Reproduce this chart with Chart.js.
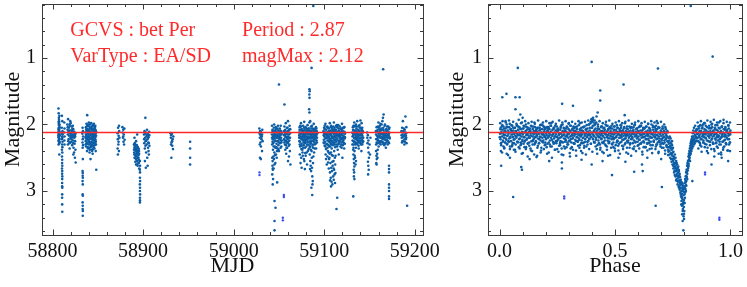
<!DOCTYPE html>
<html>
<head>
<meta charset="utf-8">
<script src="https://cdn.jsdelivr.net/npm/chart.js@4.4.1/dist/chart.umd.min.js"></script>
<style>
  html, body { margin: 0; padding: 0; background: #fff; }
  #wrap { position: relative; width: 747px; height: 287px; overflow: hidden; }
  canvas { position: absolute; left: 0; top: 0; }
</style>
</head>
<body>
<div id="wrap">
  <canvas id="lc" width="747" height="287"></canvas>
  <canvas id="ph" width="747" height="287"></canvas>
</div>
<script>
// star info shown in the corner of the light curve
const gcvsName = 'bet Per';
const varType = 'EA/SD';
const period = 2.87;
const magMax = 2.12;

// tick labels
const mjdTicks = [58800, 58900, 59000, 59100, 59200];
const phaseTicks = [0, 0.5, 1];
const magTicks = [1, 2, 3];

// light curve, [MJD, mag]
const season1 = [
  [58806.6,1.76],[58806.8,1.83],[58807.0,1.9],[58806.7,1.96],[58807.2,2.01],[58806.9,2.05],[58807.4,2.08],[58806.6,2.11],[58807.1,2.14],[58807.6,2.17],
  [58806.8,2.19],[58807.3,2.22],[58807.0,2.25],[58807.5,2.28],[58806.7,2.3],[58807.8,2.04],[58807.2,1.93],[58807.9,2.12],[58806.9,2.2],[58807.4,2.27],
  [58807.7,2.0],[58807.1,2.09],[58808.0,2.16],[58807.5,2.45],[58806.8,2.24],[58807.6,1.87],
  [58806.9,1.99],[58807.3,2.06],[58807.6,2.21],[58806.5,2.16],[58807.8,2.26],[58807.0,2.13],[58807.4,1.96],
  [58810.4,1.87],[58810.8,1.95],[58810.2,2.05],[58811.0,2.1],[58810.5,2.14],[58810.7,2.18],[58810.3,2.22],[58811.1,2.26],[58810.6,2.3],[58810.9,2.34],
  [58810.4,2.38],[58810.8,2.42],[58810.5,2.48],[58810.7,2.53],[58810.6,2.58],[58810.8,2.62],[58810.5,2.66],[58810.7,2.7],[58810.6,2.74],[58810.8,2.78],
  [58810.7,2.82],[58810.6,2.88],[58810.7,2.93],[58810.8,2.95],[58810.7,3.05],[58810.6,3.1],[58810.7,3.2],[58810.8,3.31],[58811.0,2.2],[58811.2,2.15],
  [58813.0,1.97],[58813.2,2.06],[58812.9,2.12],[58813.3,2.18],[58813.1,2.24],[58813.2,2.3],
  [58816.3,2.0],[58816.6,2.08],[58816.9,2.15],[58817.2,1.92],[58817.5,2.11],[58817.8,2.22],[58818.1,2.05],[58818.4,2.17],[58818.7,2.28],[58819.0,2.02],
  [58819.3,2.13],[58819.6,1.95],[58819.9,2.2],[58820.2,2.09],[58820.5,2.26],[58820.8,2.14],[58821.1,2.03],[58821.4,2.19],[58821.7,2.31],[58822.0,2.1],
  [58822.3,2.16],[58822.6,2.24],[58822.9,2.07],[58823.2,2.35],[58823.5,2.13],[58823.8,2.42],[58824.1,2.2],[58824.4,2.29],[58824.7,2.5],[58825.0,2.18],
  [58825.3,2.38],[58825.6,2.57],[58817.0,2.3],[58818.9,2.36],[58820.0,1.98],[58821.9,2.06],[58823.0,2.45],
  [58816.8,2.04],[58817.4,2.25],[58818.2,2.12],[58818.8,2.0],[58819.5,2.27],[58820.3,2.16],[58821.0,2.22],[58821.6,2.09],[58822.4,2.02],[58823.3,2.19],
  [58824.0,2.11],[58824.9,2.25],[58825.4,2.14],
  [58833.2,2.05],[58833.6,2.1],[58833.0,2.14],[58833.8,2.18],[58833.4,2.22],[58833.1,2.27],[58833.7,2.31],[58833.3,2.35],[58833.5,2.52],[58833.2,2.7],
  [58833.4,2.73],[58833.3,2.77],[58833.5,2.8],[58833.2,2.85],[58833.4,2.9],[58833.3,3.05],[58833.5,3.07],[58833.2,3.17],[58833.4,3.22],[58833.3,3.27],
  [58833.5,3.3],[58833.4,3.37],
  [58836.5,2.12],[58836.7,2.25],[58836.9,2.04],[58837.1,2.33],[58837.3,2.17],[58837.5,1.99],[58837.7,2.28],[58837.9,2.1],[58838.1,2.4],[58838.3,1.86],
  [58838.5,2.2],[58838.7,2.07],[58838.9,2.15],[58839.1,2.36],[58839.3,2.02],[58839.5,2.23],[58839.7,2.13],[58839.9,2.3],[58840.1,1.97],[58840.3,2.19],
  [58840.5,2.08],[58840.7,2.26],[58840.9,2.42],[58841.1,2.11],[58841.3,2.0],[58841.5,2.21],[58841.7,2.16],[58841.9,2.34],[58842.1,2.05],[58842.3,2.27],
  [58842.5,2.14],[58842.7,1.98],[58842.9,2.38],[58843.1,2.09],[58843.3,2.22],[58843.5,2.03],[58843.7,2.18],[58843.9,2.3],[58844.1,2.12],[58844.3,2.44],
  [58844.5,2.01],[58844.7,2.24],[58844.9,2.15],[58845.1,2.07],[58845.3,2.32],[58845.5,2.19],[58845.7,1.99],[58845.9,2.27],[58846.1,2.11],[58846.3,2.36],
  [58846.5,2.06],[58846.7,2.2],[58846.9,2.14],[58847.1,2.29],[58847.3,2.02],[58847.5,2.23],[58847.7,2.4],[58847.9,2.1],[58848.1,2.17],[58848.3,2.68],
  [58836.8,2.18],[58838.0,2.29],[58839.4,2.09],[58840.6,2.35],[58841.8,2.05],[58843.0,2.26],[58844.2,2.17],[58845.4,2.13],[58846.6,2.31],[58847.4,2.08],
  [58842.0,2.52],[58845.0,2.02],[58839.0,2.0],[58843.8,2.4],[58846.0,2.2],
  [58836.6,2.3],[58837.0,2.15],[58837.6,2.06],[58838.2,2.22],[58838.8,2.34],[58839.2,2.14],[58839.8,2.24],[58840.4,2.03],[58840.8,2.17],[58841.4,2.29],
  [58842.2,2.12],[58842.8,2.2],[58843.4,2.33],[58844.0,2.06],[58844.6,2.28],[58845.2,2.23],[58845.8,2.1],[58846.4,2.16],[58847.0,2.24],[58847.6,2.14],
  [58848.0,2.3],[58841.0,2.38],[58844.8,2.37],[58838.6,2.1],[58847.2,2.19],
  [58871.8,2.13],[58872.1,2.22],[58872.4,2.05],[58872.7,2.3],[58873.0,2.17],[58873.3,2.4],[58872.2,2.45],[58873.6,2.1],[58872.9,2.26],[58873.9,2.2],
  [58871.9,2.36],[58873.4,2.02],
  [58877.2,2.04],[58877.5,2.12],[58877.8,2.2],[58878.1,2.08],[58878.4,2.26],[58878.7,2.15],[58879.0,2.3],[58879.3,2.06],[58878.0,2.18],[58879.6,2.23],
  [58889.9,2.3],[58890.2,2.42],[58890.4,2.35],[58890.6,2.5],[58890.8,2.28],[58891.0,2.45],[58891.2,2.38],[58891.4,2.56],[58891.6,2.33],[58891.8,2.47],
  [58892.0,2.4],[58892.2,2.6],[58892.4,2.36],[58892.6,2.52],[58892.8,2.44],[58893.0,2.31],[58893.2,2.48],[58893.4,2.39],[58893.6,2.55],[58893.8,2.43],
  [58894.0,2.62],[58894.2,2.34],[58894.4,2.5],[58894.6,2.41],[58894.8,2.58],[58895.0,2.46],[58895.2,2.37],[58895.4,2.53],[58895.6,2.44],[58895.8,2.66],
  [58890.5,2.2],[58893.5,2.15],[58892.3,2.25],
  [58890.0,2.38],[58890.7,2.32],[58891.3,2.5],[58891.9,2.37],[58892.5,2.45],[58893.1,2.55],[58893.7,2.35],[58894.3,2.44],[58894.9,2.5],[58895.5,2.4],
  [58892.9,2.6],
  [58896.5,2.55],[58896.7,2.62],[58896.4,2.68],[58896.6,2.72],[58896.5,2.8],[58896.7,2.85],[58896.4,2.9],[58896.6,2.95],[58896.5,3.0],[58896.7,3.05],
  [58896.5,3.1],[58896.6,3.14],[58896.5,3.17],
  [58901.0,2.15],[58901.3,2.28],[58901.6,2.1],[58901.9,2.36],[58902.2,2.2],[58902.5,1.9],[58902.8,2.25],[58903.1,2.12],[58903.4,2.42],[58903.7,2.18],
  [58904.0,2.3],[58904.3,2.08],[58904.6,2.5],[58904.9,2.22],[58905.2,2.14],[58905.5,2.35],[58905.8,2.27],[58906.1,2.19],[58906.4,2.45],[58906.7,2.11],
  [58907.0,2.32],[58902.0,2.55],[58905.0,2.62],[58903.0,2.65],[58906.0,2.4],
  [58901.2,2.22],[58902.0,2.14],[58902.6,2.32],[58903.5,2.24],[58904.2,2.16],[58905.4,2.2],[58906.2,2.28],[58906.8,2.16],
  [58930.2,2.13],[58930.6,2.2],[58931.0,2.16],[58931.4,2.27],[58931.8,2.14],[58932.2,2.32],[58932.6,2.22],[58933.0,2.37],[58933.4,2.18],[58931.2,2.5],
  [58932.0,2.25],[58930.8,2.3],
  [58951.9,2.26],[58951.9,2.36],[58951.9,2.5],[58951.9,2.6]
];

// extra points inside the densest 2019 clumps
const season1Fill = [
  [58836.4,2.2],[58837.2,2.08],[58837.8,2.22],[58838.4,2.02],[58839.0,2.27],[58839.6,2.18],[58840.2,2.12],[58840.9,2.22],[58841.5,2.06],[58842.4,2.31],
  [58843.2,2.15],[58843.6,2.07],[58844.4,2.21],[58845.6,2.35],[58846.2,2.24],[58846.8,2.04],[58847.8,2.26],[58848.2,2.12],
  [58807.0,2.18],[58807.5,2.11],[58806.7,2.07],[58818.5,2.09],[58820.6,2.19],[58822.8,2.28],[58824.5,2.16],
  [58890.3,2.45],[58891.1,2.3],[58892.1,2.52],[58893.3,2.42],[58894.5,2.36],[58895.3,2.58]
];

const season2 = [
  [59028.3,2.06],[59028.6,2.14],[59028.9,2.2],[59029.2,2.1],[59029.5,2.27],[59029.8,2.16],[59030.1,2.33],[59030.4,2.12],[59030.7,2.22],[59031.0,2.18],
  [59031.3,2.4],[59031.6,2.08],[59031.9,2.25],[59029.0,2.5],[59030.0,2.52],[59028.8,2.3],[59029.6,2.11],[59030.6,2.18],[59031.4,2.15],
  [59042.2,2.15],[59042.5,2.3],[59042.8,2.08],[59043.1,2.22],[59043.4,2.38],[59043.7,2.12],[59044.0,2.26],[59044.3,2.05],[59044.6,2.19],[59044.9,2.42],
  [59045.2,2.14],[59045.5,2.33],[59045.8,2.1],[59046.1,2.24],[59046.4,2.17],[59046.7,2.45],[59047.0,2.07],[59047.3,2.29],[59047.6,2.2],[59047.9,2.12],
  [59048.2,2.36],[59048.5,2.16],[59048.8,2.25],[59049.1,2.09],[59049.4,2.31],[59049.7,2.18],[59050.0,2.4],[59050.3,2.13],[59050.6,2.22],[59050.9,2.06],
  [59051.2,2.28],[59051.5,2.15],[59051.8,2.35],[59052.1,2.1],[59052.4,2.2],[59052.7,2.27],[59053.0,2.14],
  [59042.4,2.2],[59043.0,2.1],[59043.6,2.28],[59044.2,2.16],[59044.8,2.09],[59045.4,2.25],[59046.0,2.35],[59046.6,2.11],[59047.2,2.18],[59047.8,2.4],
  [59048.4,2.06],[59049.0,2.2],[59049.6,2.13],[59050.2,2.27],[59050.8,2.17],[59051.4,2.09],[59052.0,2.24],[59052.6,2.33],[59043.8,2.48],[59045.6,2.46],
  [59042.5,2.5],[59043.0,2.55],[59042.8,2.62],[59043.3,2.68],[59042.6,2.75],[59043.5,2.82],[59043.1,2.9],[59044.5,2.52],[59045.0,2.6],[59046.0,2.58],
  [59047.5,2.5],[59044.0,2.66],[59048.0,2.87],
  [59055.4,2.1],[59055.7,2.22],[59056.0,2.03],[59056.3,2.16],[59056.6,2.3],[59056.9,2.08],[59057.2,2.19],[59057.5,1.98],[59057.8,2.25],[59058.1,2.12],
  [59058.4,2.35],[59058.7,2.05],[59059.0,2.2],[59059.3,2.14],[59059.6,2.28],[59059.9,1.95],[59060.2,2.18],[59060.5,2.09],[59060.8,2.32],[59061.1,2.15],
  [59061.4,2.24],[59061.7,2.02],[59062.0,2.4],[59062.3,2.13],[59062.6,2.6],[59061.0,2.48],[59060.0,2.55],[59058.0,2.44],[59057.0,2.38],[59059.5,2.05],
  [59055.6,2.16],[59056.4,2.24],[59057.1,2.1],[59057.9,2.14],[59058.6,2.27],[59059.4,2.22],[59060.1,2.1],[59060.9,2.2],[59061.6,2.3],[59062.4,2.07],
  [59059.0,2.35],
  [59072.2,2.12],[59072.5,2.25],[59072.8,2.04],[59073.1,2.18],[59073.4,2.33],[59073.7,2.09],[59074.0,2.21],[59074.3,1.98],[59074.6,2.15],[59074.9,2.29],
  [59075.2,2.07],[59075.5,2.19],[59075.8,2.38],[59076.1,2.11],[59076.4,2.24],[59076.7,2.02],[59077.0,2.16],[59077.3,2.31],[59077.6,2.13],[59077.9,1.96],
  [59078.2,2.22],[59078.5,2.08],[59078.8,2.35],[59079.1,2.17],[59079.4,2.27],[59079.7,2.05],[59080.0,2.14],[59080.3,2.2],[59080.6,2.42],[59080.9,2.1],
  [59081.2,2.23],[59081.5,2.01],[59081.8,2.18],[59082.1,2.3],[59082.4,2.12],[59082.7,2.06],[59083.0,2.26],[59083.3,2.15],[59083.6,1.97],[59083.9,2.21],
  [59084.2,2.34],[59084.5,2.09],[59084.8,2.18],[59085.1,2.28],[59085.4,2.03],[59085.7,2.14],[59086.0,2.4],[59086.3,2.2],[59086.6,2.11],[59086.9,2.32],
  [59087.2,2.06],[59087.5,2.19],[59087.8,2.25],[59088.1,2.13],[59088.4,1.99],[59088.7,2.23],[59089.0,2.16],[59089.3,2.36],[59089.6,2.08],[59089.9,2.21],
  [59090.2,2.14],[59090.5,2.29],[59090.8,2.04],[59091.1,2.17],[59091.4,2.24],[59091.7,2.1],[59092.0,2.2],[59073.0,2.45],[59074.5,2.5],[59076.0,2.42],
  [59078.0,2.55],[59079.5,2.47],[59081.0,2.6],[59075.0,2.65],[59073.8,2.58],[59077.5,2.52],
  [59072.4,2.16],[59072.9,2.3],[59073.5,2.02],[59074.1,2.14],[59074.7,2.37],[59075.3,2.22],[59075.9,2.1],[59076.5,2.17],[59077.1,2.27],[59077.7,2.05],
  [59078.3,2.15],[59078.9,2.25],[59079.5,2.11],[59080.1,2.33],[59080.7,2.18],[59081.3,2.07],[59081.9,2.26],[59082.5,2.19],[59083.1,2.1],[59083.7,2.32],
  [59084.3,2.13],[59084.9,2.24],[59085.5,2.16],[59086.1,2.06],[59086.7,2.21],[59087.3,2.3],[59087.9,2.1],[59088.5,2.17],[59089.1,2.27],[59089.7,2.14],
  [59090.3,2.06],[59090.9,2.24],[59091.5,2.15],[59076.3,2.47],[59079.0,2.43],[59082.0,2.4],[59085.2,2.38],[59088.8,2.42],[59091.0,2.36],[59074.0,2.08],
  [59084.0,2.45],[59084.6,2.55],[59085.0,2.62],[59085.5,2.7],[59086.2,2.5],[59086.8,2.78],[59087.3,2.85],[59087.0,2.9],[59085.8,2.95],[59086.5,2.65],
  [59087.6,2.58],[59088.0,2.48],[59084.3,2.67],
  [59099.2,2.1],[59099.5,2.23],[59099.8,2.05],[59100.1,2.18],[59100.4,2.32],[59100.7,2.12],[59101.0,2.26],[59101.3,1.99],[59101.6,2.15],[59101.9,2.37],
  [59102.2,2.08],[59102.5,2.2],[59102.8,2.13],[59103.1,2.29],[59103.4,2.03],[59103.7,2.17],[59104.0,2.4],[59104.3,2.11],[59104.6,2.24],[59104.9,2.06],
  [59105.2,2.19],[59105.5,2.33],[59105.8,2.14],[59106.1,1.98],[59106.4,2.22],[59106.7,2.09],[59107.0,2.28],[59107.3,2.16],[59107.6,2.02],[59107.9,2.21],
  [59108.2,2.36],[59108.5,2.12],[59108.8,2.25],[59109.1,2.07],[59109.4,2.18],[59109.7,2.31],[59110.0,2.1],[59110.3,2.2],[59110.6,1.97],[59110.9,2.15],
  [59111.2,2.27],[59111.5,2.05],[59111.8,2.19],[59112.1,2.34],[59112.4,2.13],[59112.7,2.23],[59113.0,2.08],[59113.3,2.17],[59113.6,2.3],[59113.9,2.01],
  [59114.2,2.21],[59114.5,2.14],[59114.8,2.38],[59115.1,2.11],[59115.4,2.24],[59115.7,2.06],[59116.0,2.18],[59116.3,2.29],[59116.6,2.1],[59116.9,2.2],
  [59117.2,2.03],[59117.5,2.16],[59117.8,2.33],[59118.1,2.12],[59118.4,2.22],[59118.7,2.07],[59119.0,2.27],[59119.3,2.15],[59119.6,1.99],[59119.9,2.2],
  [59120.2,2.09],[59120.5,2.31],[59120.8,2.13],[59121.1,2.24],[59121.4,2.05],[59121.7,2.18],[59122.0,2.36],[59122.3,2.11],[59122.6,2.21],[59122.9,2.14],
  [59099.4,2.16],[59100.0,2.28],[59100.6,2.07],[59101.2,2.2],[59101.8,2.12],[59102.4,2.3],[59103.0,2.17],[59103.6,2.24],[59104.2,2.05],[59104.8,2.15],
  [59105.4,2.26],[59106.0,2.1],[59106.6,2.33],[59107.2,2.14],[59107.8,2.25],[59108.4,2.05],[59109.0,2.2],[59109.6,2.13],[59110.2,2.29],[59110.8,2.08],
  [59111.4,2.18],[59112.0,2.24],[59112.6,2.1],[59113.2,2.26],[59113.8,2.15],[59114.4,2.04],[59115.0,2.3],[59115.6,2.17],[59116.2,2.09],[59116.8,2.25],
  [59117.4,2.12],[59118.0,2.19],[59118.6,2.3],[59119.2,2.06],[59119.8,2.14],[59120.4,2.22],[59121.0,2.17],[59121.6,2.28],[59122.2,2.04],[59122.8,2.19],
  [59101.5,2.45],[59102.0,2.52],[59102.8,2.6],[59103.5,2.48],[59104.2,2.57],[59105.0,2.66],[59105.7,2.5],[59106.3,2.72],[59106.8,2.58],[59107.2,2.8],
  [59107.7,2.65],[59108.1,2.86],[59108.6,2.7],[59109.0,2.9],[59109.3,2.62],[59109.8,2.78],[59110.2,2.55],[59110.5,2.83],[59110.9,2.68],[59111.3,2.75],
  [59111.7,2.5],[59112.0,2.6],[59108.4,2.46],[59106.0,2.44],[59112.5,2.47],[59107.5,2.93],[59104.8,2.42],[59116.0,2.45],[59120.0,2.5],
  [59107.4,2.42],[59109.5,2.47],[59111.0,2.4],[59105.3,2.52],[59108.9,2.56],[59110.4,2.66],[59112.3,2.73],[59106.5,2.84],[59111.9,2.88],
  [59131.0,2.12],[59131.3,2.24],[59131.6,2.04],[59131.9,2.17],[59132.2,2.3],[59132.5,2.09],[59132.8,2.2],[59133.1,1.97],[59133.4,2.15],[59133.7,2.27],
  [59134.0,2.11],[59134.3,2.02],[59134.6,2.22],[59134.9,2.35],[59135.2,2.14],[59135.5,2.06],[59135.8,2.19],[59136.1,2.28],[59136.4,1.95],[59136.7,2.13],
  [59137.0,2.24],[59137.3,2.08],[59137.6,2.18],[59137.9,2.32],[59138.2,2.1],[59138.5,2.21],[59138.8,2.01],[59139.1,2.16],[59139.4,2.26],[59139.7,2.12],
  [59140.0,2.05],[59140.3,2.2],[59140.6,2.3],[59140.9,2.14],[59141.2,1.98],[59141.5,2.23],[59141.8,2.09],[59142.1,2.17],[59142.4,2.27],[59142.7,2.12],
  [59143.0,2.2],[59132.0,2.38],[59135.0,2.0],[59138.0,2.36],[59141.0,2.4],[59136.0,2.23],[59139.9,1.94],
  [59131.2,2.18],[59131.8,2.08],[59132.4,2.25],[59133.0,2.14],[59133.6,2.03],[59134.2,2.3],[59134.8,2.17],[59135.4,2.1],[59136.0,2.13],[59136.6,2.21],
  [59137.2,2.16],[59137.8,2.03],[59138.4,2.27],[59139.0,2.09],[59139.6,2.2],[59140.2,2.12],[59140.8,2.24],[59141.4,2.15],[59142.0,2.05],[59142.6,2.2],
  [59133.4,2.4],[59132.3,2.35],
  [59132.2,2.45],[59132.6,2.52],[59132.9,2.58],[59133.2,2.63],[59132.5,2.68],[59133.0,2.72],[59132.7,2.78],[59133.3,2.82],[59134.0,2.5],[59134.5,2.6],
  [59135.0,2.55],[59133.6,2.47],
  [59147.2,2.12],[59147.5,2.2],[59147.8,2.28],[59148.1,2.16],[59148.4,2.35],[59148.7,2.24],[59149.0,2.42],[59149.3,2.5],[59148.2,2.56],[59148.6,2.62],
  [59149.1,2.68],[59148.4,2.75],[59150.0,2.3],[59150.5,2.45],[59151.0,2.2],
  [59157.0,2.1],[59157.4,2.22],[59157.8,2.04],[59158.2,2.17],[59158.6,2.28],[59159.0,2.08],[59159.4,2.19],[59159.8,1.97],[59160.2,2.14],[59160.6,2.25],
  [59161.0,2.11],[59161.4,2.02],[59161.8,2.2],[59162.2,2.3],[59162.6,2.13],[59163.0,2.06],[59163.4,2.18],[59163.8,2.26],[59164.2,1.95],[59164.6,2.15],
  [59165.0,2.22],[59165.4,2.09],[59165.8,2.19],[59166.2,2.31],[59166.6,2.12],[59167.0,2.0],[59167.4,2.23],[59167.8,2.14],[59168.2,2.27],[59168.6,2.07],
  [59169.0,2.17],[59169.4,2.24],[59169.8,2.1],[59170.2,2.2],[59170.6,2.03],[59171.0,2.16],[59171.4,2.28],[59171.8,2.12],[59172.2,2.21],[59165.5,1.85],
  [59164.8,1.9],[59160.0,2.33],[59162.0,1.99],[59168.0,2.35],[59170.0,2.3],
  [59157.2,2.15],[59157.9,2.27],[59158.5,2.11],[59159.2,2.24],[59159.9,2.13],[59160.5,2.05],[59161.2,2.17],[59161.9,2.26],[59162.5,2.09],[59163.2,2.2],
  [59163.9,2.14],[59164.5,2.29],[59165.2,2.05],[59165.9,2.13],[59166.5,2.22],[59167.2,2.16],[59167.9,2.08],[59168.5,2.19],[59169.2,2.12],[59169.9,2.25],
  [59170.5,2.15],[59171.2,2.07],[59171.9,2.19],
  [59157.2,2.4],[59157.6,2.47],[59158.0,2.52],[59157.4,2.58],[59158.4,2.44],[59157.8,2.6],[59159.0,2.38],[59158.8,2.5],
  [59171.5,2.62],[59171.5,2.67],[59171.5,2.72],[59171.5,2.9],[59171.5,2.95],[59171.5,3.0],[59171.5,3.08],[59171.5,3.12],
  [59185.2,2.1],[59185.6,2.2],[59186.0,2.05],[59186.4,2.15],[59186.8,1.95],[59187.2,2.25],[59187.6,2.12],[59188.0,2.18],[59188.4,2.3],[59188.8,2.08],
  [59189.2,2.16],[59189.6,1.88],[59190.0,2.22],[59190.4,2.13],[59190.8,2.28],
  [59185.4,2.16],[59186.2,2.25],[59187.0,2.18],[59187.8,2.06],[59188.6,2.22],[59189.4,2.12],[59190.2,2.17],[59190.6,2.04]
];

// extra points inside the densest 2020 clumps
const season2Fill = [
  [59042.3,2.02],[59042.9,2.26],[59043.5,2.18],[59044.1,2.33],[59044.7,2.0],[59045.3,2.21],[59045.9,2.15],[59046.5,2.04],[59047.1,2.34],[59047.7,2.16],
  [59048.3,2.25],[59048.9,2.02],[59049.5,2.37],[59050.1,2.19],[59050.7,2.1],[59051.3,2.2],[59051.9,2.02],[59052.5,2.15],[59053.1,2.24],
  [59072.3,2.2],[59072.7,2.08],[59073.3,2.26],[59073.9,2.14],[59074.4,2.03],[59075.1,2.32],[59075.6,2.13],[59076.2,2.2],[59076.8,2.35],[59077.4,2.09],
  [59078.0,2.19],[59078.6,2.28],[59079.2,2.04],[59079.8,2.23],[59080.4,2.11],[59081.1,2.3],[59081.6,2.14],[59082.2,2.21],[59082.8,2.37],[59083.4,2.06],
  [59084.0,2.2],[59084.7,2.29],[59085.3,2.1],[59085.9,2.25],[59086.5,2.02],[59087.1,2.15],[59087.7,2.35],[59088.3,2.07],[59088.9,2.2],[59089.5,2.3],
  [59090.1,2.1],[59090.7,2.18],[59091.3,2.06],[59091.9,2.27],[59092.3,2.13],
  [59099.3,2.27],[59099.9,2.14],[59100.5,2.02],[59101.1,2.33],[59101.7,2.21],[59102.3,2.15],[59102.9,2.04],[59103.5,2.35],[59104.1,2.2],[59104.7,2.31],
  [59105.3,2.1],[59105.9,2.24],[59106.5,2.15],[59107.1,2.04],[59107.7,2.3],[59108.3,2.18],[59108.9,2.1],[59109.5,2.27],[59110.1,2.03],[59110.7,2.23],
  [59111.3,2.12],[59111.9,2.3],[59112.5,2.17],[59113.1,2.02],[59113.7,2.21],[59114.3,2.33],[59114.9,2.16],[59115.5,2.01],[59116.1,2.27],[59116.7,2.14],
  [59117.3,2.24],[59117.9,2.06],[59118.5,2.15],[59119.1,2.35],[59119.7,2.1],[59120.3,2.25],[59120.9,2.05],[59121.5,2.2],[59122.1,2.12],[59122.7,2.29],
  [59131.1,2.3],[59131.7,2.14],[59132.3,2.02],[59132.9,2.26],[59133.5,2.2],[59134.1,2.09],[59134.7,2.27],[59135.3,2.2],[59135.9,2.03],[59136.5,2.3],
  [59137.1,2.12],[59137.7,2.26],[59138.3,2.15],[59138.9,2.24],[59139.5,2.05],[59140.1,2.28],[59140.7,2.16],[59141.3,2.07],[59141.9,2.3],[59142.5,2.1],
  [59142.9,2.25],
  [59157.3,2.3],[59158.0,2.1],[59158.7,2.22],[59159.3,2.03],[59160.0,2.18],[59160.7,2.28],[59161.3,2.08],[59162.0,2.14],[59162.7,2.25],[59163.3,2.0],
  [59164.0,2.21],[59164.7,2.08],[59165.3,2.27],[59166.0,2.17],[59166.7,2.02],[59167.3,2.29],[59168.0,2.12],[59168.7,2.23],[59169.3,2.03],[59170.0,2.16],
  [59170.7,2.26],[59171.3,2.13],[59172.0,2.05],
  [59055.9,2.27],[59056.8,2.13],[59057.6,2.31],[59058.8,2.18],[59060.3,2.26],[59061.3,2.08],[59062.2,2.2],
  [59185.8,2.27],[59187.4,2.1],[59189.0,2.26],[59190.5,2.2]
];

// isolated points of the light curve
const lcOutliers = [
  [59050.0,1.4],[59045.1,3.15],[59046.2,3.25],[59045.1,3.45],[59045.1,3.59],[59043.2,2.66],
  [59056.0,1.7],[59087.9,0.22],[59086.0,1.15],[59083.7,1.47],[59083.9,1.5],[59083.5,1.55],[59083.7,1.6],
  [59083.3,1.77],[59083.6,1.82],[59084.5,1.95],[59086.7,3.06],[59078.6,2.67],
  [59113.5,3.27],[59114.3,3.1],[59132.0,3.08],[59165.0,1.17],[59191.5,3.22]
];
// bright blue marks
const lcFlagged = [[59028.5,2.72],[59028.5,2.76],[59055.4,3.06],[59055.4,3.09],[59054.3,3.4],[59054.3,3.44]];

// folded curve, [phase, mag]
const phaseBand = [
  [0.002,2.14],[0.004,2.22],[0.005,2.05],[0.007,2.31],[0.008,2.11],[0.010,2.18],[0.011,2.42],[0.013,2.08],[0.014,2.26],[0.016,2.13],
  [0.017,2.03],[0.019,2.2],[0.020,2.36],[0.022,2.1],[0.023,2.16],[0.025,2.27],[0.026,2.06],[0.028,2.12],[0.029,2.23],[0.031,2.0],
  [0.033,2.17],[0.034,2.29],[0.036,2.09],[0.037,2.46],[0.039,2.14],[0.041,2.21],[0.042,2.04],[0.044,2.12],[0.045,2.33],[0.047,2.18],
  [0.049,2.07],[0.050,2.25],[0.052,2.15],[0.054,2.11],[0.055,2.02],[0.057,2.28],[0.058,2.19],[0.060,2.09],[0.062,2.38],[0.063,2.13],
  [0.065,2.22],[0.067,2.05],[0.068,2.17],[0.070,2.3],[0.071,2.1],[0.073,2.2],[0.075,2.01],[0.076,2.14],[0.078,2.26],[0.080,2.08],
  [0.081,2.16],[0.083,2.34],[0.085,2.12],[0.086,2.04],[0.088,2.21],[0.090,2.13],[0.091,2.27],[0.093,2.07],[0.095,2.18],[0.096,2.44],
  [0.098,2.11],[0.099,2.23],
  [0.101,2.15],[0.103,2.06],[0.104,2.29],[0.106,2.12],[0.108,2.19],[0.109,2.03],[0.111,2.24],[0.113,2.1],[0.114,2.37],[0.116,2.16],
  [0.118,2.08],[0.119,2.21],[0.121,2.13],[0.123,2.28],[0.124,2.05],[0.126,2.17],[0.128,2.11],[0.129,2.32],[0.131,2.2],[0.133,2.09],
  [0.134,2.14],[0.136,2.02],[0.138,2.25],[0.139,2.12],[0.141,2.4],[0.143,2.18],[0.144,2.07],[0.146,2.23],[0.148,2.15],[0.149,2.1],
  [0.151,2.3],[0.153,2.04],[0.154,2.19],[0.156,2.13],[0.158,2.26],[0.159,2.08],[0.161,2.16],[0.163,2.47],[0.164,2.11],[0.166,2.21],
  [0.168,2.05],[0.169,2.14],[0.171,2.28],[0.173,2.09],[0.174,2.18],[0.176,2.01],[0.178,2.24],[0.179,2.12],[0.181,2.35],[0.183,2.15],
  [0.184,2.07],[0.186,2.2],[0.188,2.13],[0.189,2.27],[0.191,2.03],[0.193,2.17],[0.194,2.1],[0.196,2.31],[0.198,2.19],[0.199,2.06],
  [0.201,2.22],[0.203,2.12],[0.204,2.16],[0.206,2.04],[0.208,2.29],[0.209,2.1],[0.211,2.19],[0.213,2.42],[0.214,2.13],[0.216,2.07],
  [0.218,2.24],[0.219,2.15],[0.221,2.02],[0.223,2.2],[0.224,2.11],[0.226,2.33],[0.228,2.17],[0.229,2.08],[0.231,2.26],[0.233,2.14],
  [0.234,2.05],[0.236,2.21],[0.238,2.12],[0.239,2.38],[0.241,2.18],[0.243,2.09],[0.244,2.15],[0.246,2.28],[0.248,2.03],[0.249,2.19],
  [0.251,2.11],[0.253,2.23],[0.254,2.06],[0.256,2.16],[0.258,2.32],[0.259,2.13],[0.261,2.2],[0.263,2.08],[0.264,2.25],[0.266,2.14],
  [0.268,2.01],[0.269,2.45],[0.271,2.17],[0.273,2.1],[0.274,2.27],[0.276,2.12],[0.278,2.05],[0.279,2.21],[0.281,2.15],[0.283,2.36],
  [0.284,2.09],[0.286,2.18],[0.288,2.24],[0.289,2.11],[0.291,2.03],[0.293,2.16],[0.294,2.3],[0.296,2.13],[0.298,2.2],[0.299,2.07],
  [0.301,2.14],[0.303,2.25],[0.304,2.09],[0.306,2.18],[0.308,2.02],[0.309,2.22],[0.311,2.12],[0.313,2.34],[0.314,2.16],[0.316,2.06],
  [0.318,2.2],[0.319,2.13],[0.321,2.28],[0.323,2.1],[0.324,2.17],[0.326,2.04],[0.328,2.23],[0.329,2.14],[0.331,2.39],[0.333,2.11],
  [0.334,2.19],[0.336,2.07],[0.338,2.15],[0.339,2.26],[0.341,2.12],[0.343,2.01],[0.344,2.21],[0.346,2.16],[0.348,2.31],[0.349,2.09],
  [0.351,2.18],[0.353,2.13],[0.354,2.05],[0.356,2.24],[0.358,2.15],[0.359,2.43],[0.361,2.1],[0.363,2.2],[0.364,2.12],[0.366,2.27],
  [0.368,2.03],[0.369,2.17],[0.371,2.22],[0.373,2.08],[0.374,2.14],[0.376,2.33],[0.378,2.11],[0.379,2.19],[0.381,2.06],[0.383,2.16],
  [0.384,2.25],[0.386,2.13],[0.388,2.0],[0.389,2.21],[0.391,2.09],[0.393,2.17],[0.394,1.98],[0.396,2.29],[0.398,2.12],[0.399,2.05],
  [0.401,1.95],[0.402,2.14],[0.404,2.02],[0.405,2.22],[0.407,1.97],[0.408,2.1],[0.410,2.18],[0.411,2.01],[0.413,2.27],[0.415,2.12],
  [0.416,2.06],[0.418,2.2],[0.420,2.15],[0.421,2.37],[0.423,2.09],[0.425,2.17],[0.426,2.03],[0.428,2.24],[0.430,2.13],[0.431,2.07],
  [0.433,2.19],[0.435,2.3],[0.436,2.11],[0.438,2.16],[0.440,2.04],[0.441,2.22],[0.443,2.14],[0.445,2.41],[0.446,2.1],[0.448,2.18],
  [0.450,2.06],[0.451,2.26],[0.453,2.13],[0.455,2.2],[0.456,2.08],[0.458,2.15],[0.460,2.32],[0.461,2.12],[0.463,2.02],[0.465,2.19],
  [0.466,2.11],[0.468,2.24],[0.470,2.16],[0.471,2.07],[0.473,2.28],[0.475,2.13],[0.476,2.21],[0.478,2.04],[0.480,2.17],[0.481,2.1],
  [0.483,2.35],[0.485,2.14],[0.486,2.22],[0.488,2.06],[0.490,2.12],[0.491,2.19],[0.493,2.27],[0.495,2.09],[0.496,2.15],[0.498,2.03],
  [0.500,2.2],[0.502,2.13],[0.503,2.31],[0.505,2.08],[0.507,2.17],[0.508,2.11],[0.510,2.24],[0.512,2.05],[0.513,2.15],[0.515,2.39],
  [0.517,2.12],[0.518,2.2],[0.520,2.07],[0.522,2.16],[0.523,2.27],[0.525,2.1],[0.527,2.02],[0.528,2.19],[0.530,2.14],[0.532,2.23],
  [0.533,2.09],[0.535,2.33],[0.537,2.17],[0.538,2.12],[0.540,2.04],[0.542,2.21],[0.543,2.15],[0.545,2.28],[0.547,2.1],[0.548,2.18],
  [0.550,2.06],[0.552,2.13],[0.553,2.25],[0.555,2.16],[0.557,2.44],[0.558,2.11],[0.560,2.2],[0.562,2.03],[0.563,2.14],[0.565,2.3],
  [0.567,2.09],[0.568,2.17],[0.570,2.22],[0.572,2.12],[0.573,2.05],[0.575,2.19],[0.577,2.36],[0.578,2.13],[0.580,2.08],[0.582,2.24],
  [0.583,2.15],[0.585,2.01],[0.587,2.18],[0.588,2.27],[0.590,2.11],[0.592,2.16],[0.593,2.07],[0.595,2.21],[0.597,2.13],[0.598,2.32],
  [0.600,2.1],[0.602,2.18],[0.603,2.04],[0.605,2.23],[0.607,2.14],[0.608,2.29],[0.610,2.09],[0.612,2.16],[0.613,2.02],[0.615,2.2],
  [0.617,2.12],[0.618,2.41],[0.620,2.15],[0.622,2.07],[0.623,2.25],[0.625,2.13],[0.627,2.19],[0.628,2.06],[0.630,2.34],[0.632,2.11],
  [0.633,2.17],[0.635,2.03],[0.637,2.22],[0.638,2.14],[0.640,2.28],[0.642,2.09],[0.643,2.16],[0.645,2.21],[0.647,2.05],[0.648,2.12],
  [0.650,2.37],[0.652,2.18],[0.653,2.1],[0.655,2.26],[0.657,2.14],[0.658,2.0],[0.660,2.2],[0.662,2.13],[0.663,2.31],[0.665,2.08],
  [0.667,2.17],[0.668,2.24],[0.670,2.11],[0.672,2.04],[0.673,2.19],[0.675,2.15],[0.677,2.33],[0.678,2.1],[0.680,2.22],[0.682,2.07],
  [0.683,2.16],[0.685,2.27],[0.687,2.12],[0.688,2.43],[0.690,2.18],[0.692,2.05],[0.693,2.21],[0.695,2.14],[0.697,2.3],[0.698,2.09],
  [0.700,2.17],[0.702,2.24],[0.703,2.12],[0.705,2.06],[0.707,2.2],[0.708,2.15],[0.710,2.35],[0.712,2.1],[0.713,2.19],[0.715,2.27],
  [0.717,2.13],[0.718,2.04],[0.720,2.22],[0.722,2.16],[0.723,2.31],[0.725,2.18],[0.727,2.25],[0.728,2.12],[0.730,2.38],[0.732,2.2],
  [0.733,2.29],
  [0.856,2.08],[0.858,2.2],[0.859,2.13],[0.861,2.03],[0.863,2.17],[0.864,2.26],[0.866,2.1],[0.868,2.15],[0.869,2.01],[0.871,2.22],
  [0.873,2.12],[0.874,2.33],[0.876,2.06],[0.878,2.18],[0.879,2.14],[0.881,2.0],[0.883,2.24],[0.884,2.11],[0.886,2.19],[0.888,2.07],
  [0.889,2.29],[0.891,2.15],[0.893,2.09],[0.894,2.21],[0.896,2.13],[0.898,2.4],[0.899,2.04],[0.901,2.17],[0.903,2.11],[0.904,2.25],
  [0.906,2.14],[0.908,2.02],[0.909,2.2],[0.911,2.31],[0.913,2.1],[0.914,2.16],[0.916,2.06],[0.918,2.23],[0.919,2.13],[0.921,1.99],
  [0.923,2.18],[0.924,2.27],[0.926,2.09],[0.928,2.15],[0.929,2.37],[0.931,2.12],[0.933,2.05],[0.934,2.21],[0.936,2.14],[0.938,2.28],
  [0.939,2.08],[0.941,2.19],[0.943,2.01],[0.944,2.16],[0.946,2.24],[0.948,2.11],[0.949,2.44],[0.951,2.17],[0.953,2.06],[0.954,2.22],
  [0.956,2.13],[0.958,2.3],[0.959,2.1],[0.961,2.19],[0.963,2.03],[0.964,2.15],[0.966,2.26],[0.968,2.12],[0.969,2.35],[0.971,2.07],
  [0.973,2.18],[0.974,2.14],[0.976,2.23],[0.978,2.04],[0.979,2.16],[0.981,2.29],[0.983,2.11],[0.984,2.2],[0.986,2.08],[0.988,2.13],
  [0.989,2.39],[0.991,2.17],[0.993,2.06],[0.994,2.22],[0.996,2.12],[0.998,2.27],[0.999,2.15],[1.000,2.09]
];

// second pass over the same band, points in between the first ones
const phaseBand2 = [
  [0.001,2.19],[0.004,2.07],[0.006,2.28],[0.009,2.13],[0.012,2.01],[0.015,2.24],[0.018,2.16],[0.021,2.35],[0.024,2.1],[0.027,2.21],
  [0.030,2.04],[0.032,2.3],[0.035,2.17],[0.038,2.12],[0.041,2.26],[0.044,1.99],[0.047,2.2],[0.050,2.09],[0.053,2.33],[0.056,2.15],
  [0.059,2.05],[0.061,2.23],[0.064,2.14],[0.067,2.38],[0.070,2.11],[0.073,2.18],[0.076,2.02],[0.079,2.27],[0.082,2.08],[0.085,2.22],
  [0.088,2.16],[0.091,2.31],[0.093,1.98],[0.096,2.13],[0.099,2.25],[0.102,2.06],[0.105,2.19],[0.108,2.34],[0.111,2.12],[0.114,2.0],
  [0.117,2.23],[0.120,2.15],[0.122,2.29],[0.125,2.07],[0.128,2.2],[0.131,2.11],[0.134,2.36],[0.137,2.17],[0.140,2.03],[0.143,2.25],
  [0.146,2.13],[0.149,2.21],[0.151,1.97],[0.154,2.28],[0.157,2.1],[0.160,2.18],[0.163,2.05],[0.166,2.32],[0.169,2.14],[0.172,2.22],
  [0.175,2.08],[0.178,2.19],[0.180,2.39],[0.183,2.12],[0.186,2.01],[0.189,2.24],[0.192,2.16],[0.195,2.07],[0.198,2.27],[0.201,2.13],
  [0.204,2.34],[0.207,2.09],[0.209,2.2],[0.212,2.04],[0.215,2.17],[0.218,2.3],[0.221,2.11],[0.224,1.98],[0.227,2.23],[0.230,2.15],
  [0.233,2.07],[0.236,2.28],[0.238,2.18],[0.241,2.02],[0.244,2.25],[0.247,2.12],[0.250,2.37],[0.253,2.09],[0.256,2.21],[0.259,2.14],
  [0.262,2.31],[0.265,2.05],[0.267,2.19],[0.270,2.26],[0.273,2.0],[0.276,2.16],[0.279,2.33],[0.282,2.1],[0.285,2.22],[0.288,2.06],
  [0.291,2.18],[0.294,2.27],[0.296,2.13],[0.299,1.99],[0.302,2.24],[0.305,2.11],[0.308,2.36],[0.311,2.17],[0.314,2.08],[0.317,2.21],
  [0.320,2.03],[0.323,2.29],[0.325,2.15],[0.328,2.1],[0.331,2.25],[0.334,2.06],[0.337,2.19],[0.340,2.32],[0.343,2.12],[0.346,2.23],
  [0.349,1.98],[0.352,2.16],[0.354,2.28],[0.357,2.09],[0.360,2.2],[0.363,2.04],[0.366,2.35],[0.369,2.14],[0.372,2.26],[0.375,2.07],
  [0.378,2.18],[0.381,2.3],[0.383,2.11],[0.386,2.0],[0.389,2.22],[0.392,2.15],[0.395,1.96],[0.398,2.19],[0.401,2.05],[0.404,1.93],
  [0.407,2.16],[0.410,2.27],[0.412,2.08],[0.415,1.99],[0.418,2.23],[0.421,2.12],[0.424,2.31],[0.427,2.06],[0.430,2.19],[0.433,2.14],
  [0.436,2.38],[0.439,2.1],[0.441,2.21],[0.444,2.03],[0.447,2.17],[0.450,2.28],[0.453,2.11],[0.456,2.24],[0.459,2.0],[0.462,2.15],
  [0.465,2.33],[0.468,2.09],[0.470,2.2],[0.473,2.06],[0.476,2.26],[0.479,2.13],[0.482,2.18],[0.485,2.02],[0.488,2.3],[0.491,2.15],
  [0.494,2.22],[0.497,2.08],[0.499,2.36],[0.502,2.12],[0.505,2.19],[0.508,2.01],[0.511,2.25],[0.514,2.14],[0.517,2.29],[0.520,2.1],
  [0.523,2.2],[0.526,2.05],[0.528,2.17],[0.531,2.32],[0.534,2.09],[0.537,2.23],[0.540,2.13],[0.543,1.98],[0.546,2.21],[0.549,2.16],
  [0.552,2.35],[0.555,2.07],[0.557,2.24],[0.560,2.11],[0.563,2.18],[0.566,2.28],[0.569,2.04],[0.572,2.15],[0.575,2.21],[0.578,2.1],
  [0.581,2.37],[0.584,2.13],[0.586,2.0],[0.589,2.26],[0.592,2.17],[0.595,2.06],[0.598,2.2],[0.601,2.31],[0.604,2.12],[0.607,2.23],
  [0.610,2.03],[0.613,2.16],[0.615,2.27],[0.618,2.09],[0.621,2.19],[0.624,2.34],[0.627,2.14],[0.630,2.05],[0.633,2.22],[0.636,2.11],
  [0.639,2.29],[0.642,2.17],[0.644,1.99],[0.647,2.24],[0.650,2.13],[0.653,2.08],[0.656,2.2],[0.659,2.36],[0.662,2.15],[0.665,2.02],
  [0.668,2.26],[0.671,2.12],[0.673,2.19],[0.676,2.07],[0.679,2.3],[0.682,2.16],[0.685,2.21],[0.688,2.04],[0.691,2.25],[0.694,2.14],
  [0.697,2.33],[0.700,2.1],[0.702,2.22],[0.705,2.28],[0.708,2.06],[0.711,2.18],[0.714,2.24],[0.717,2.39],[0.720,2.12],[0.723,2.2],
  [0.726,2.34],[0.729,2.26],[0.731,2.41],
  [0.857,2.14],[0.860,2.25],[0.863,2.06],[0.866,2.19],[0.869,2.31],[0.872,2.1],[0.875,2.22],[0.878,2.02],[0.881,2.16],[0.883,2.27],
  [0.886,2.13],[0.889,1.98],[0.892,2.2],[0.895,2.09],[0.898,2.24],[0.901,2.35],[0.904,2.12],[0.907,2.18],[0.910,2.05],[0.912,2.26],
  [0.915,2.15],[0.918,2.0],[0.921,2.21],[0.924,2.11],[0.927,2.29],[0.930,2.17],[0.933,2.07],[0.936,2.23],[0.939,2.14],[0.941,2.33],
  [0.944,2.09],[0.947,2.19],[0.950,1.97],[0.953,2.26],[0.956,2.12],[0.959,2.2],[0.962,2.04],[0.965,2.17],[0.968,2.38],[0.970,2.13],
  [0.973,2.24],[0.976,2.08],[0.979,2.18],[0.982,2.3],[0.985,2.1],[0.988,2.22],[0.991,2.01],[0.994,2.15],[0.997,2.27],[0.999,2.12]
];

// the fuzzy upper and lower edges of the band
const phaseBand3 = [
  [0.003,1.98],[0.006,2.4],[0.010,2.03],[0.013,1.95],[0.017,2.33],[0.020,2.06],[0.024,2.27],[0.027,1.97],[0.031,2.44],[0.034,2.04],
  [0.038,2.25],[0.041,1.94],[0.045,2.37],[0.048,2.07],[0.052,2.01],[0.055,2.31],[0.059,1.96],[0.062,2.28],[0.066,2.05],[0.069,2.41],
  [0.073,1.99],[0.076,2.26],[0.080,2.03],[0.083,1.93],[0.087,2.36],[0.090,2.06],[0.094,2.29],[0.097,1.97],[0.101,2.43],[0.104,2.02],
  [0.108,2.26],[0.111,1.95],[0.115,2.34],[0.118,2.04],[0.122,2.48],[0.125,1.98],[0.129,2.27],[0.132,2.06],[0.136,2.39],[0.139,1.96],
  [0.143,2.3],[0.146,2.03],[0.150,2.45],[0.153,1.99],[0.157,2.25],[0.160,2.07],[0.164,2.35],[0.167,1.94],[0.171,2.28],[0.174,2.05],
  [0.178,2.42],[0.181,2.0],[0.185,2.26],[0.188,1.97],[0.192,2.37],[0.195,2.04],[0.199,2.3],[0.202,1.95],[0.206,2.44],[0.209,2.06],
  [0.213,2.27],[0.216,1.98],[0.220,2.33],[0.223,2.02],[0.227,2.5],[0.230,1.96],[0.234,2.29],[0.237,2.05],[0.241,2.38],[0.244,1.99],
  [0.248,2.25],[0.251,2.07],[0.255,2.41],[0.258,1.94],[0.262,2.28],[0.265,2.03],[0.269,2.36],[0.272,1.97],[0.276,2.46],[0.279,2.06],
  [0.283,2.26],[0.286,1.95],[0.290,2.34],[0.293,2.04],[0.297,2.3],[0.300,1.98],[0.304,2.43],[0.307,2.02],[0.311,2.27],[0.314,1.96],
  [0.318,2.38],[0.321,2.06],[0.325,2.29],[0.328,1.99],[0.332,2.47],[0.335,2.03],[0.339,2.25],[0.342,1.95],[0.346,2.35],[0.349,2.07],
  [0.353,2.4],[0.356,1.97],[0.360,2.28],[0.363,2.04],[0.367,2.32],[0.370,1.96],[0.374,2.45],[0.377,2.01],[0.381,2.26],[0.384,1.94],
  [0.388,2.37],[0.391,2.05],[0.395,2.29],[0.398,1.92],[0.402,2.41],[0.405,1.9],[0.409,2.26],[0.412,1.94],[0.416,2.33],[0.419,1.97],
  [0.423,2.44],[0.426,2.0],[0.430,2.28],[0.433,1.95],[0.437,2.35],[0.440,2.03],[0.444,2.27],[0.447,1.98],[0.451,2.43],[0.454,2.05],
  [0.458,2.3],[0.461,1.96],[0.465,2.38],[0.468,2.02],[0.472,2.26],[0.475,1.94],[0.479,2.46],[0.482,2.06],[0.486,2.29],[0.489,1.99],
  [0.493,2.34],[0.496,2.03],[0.500,2.4],[0.503,1.97],[0.507,2.27],[0.510,2.05],[0.514,2.32],[0.517,1.95],[0.521,2.44],[0.524,2.01],
  [0.528,2.26],[0.531,1.98],[0.535,2.37],[0.538,2.06],[0.542,2.3],[0.545,1.96],[0.549,2.42],[0.552,2.03],[0.556,2.27],[0.559,1.94],
  [0.563,2.35],[0.566,2.05],[0.570,2.47],[0.573,1.99],[0.577,2.28],[0.580,2.04],[0.584,2.33],[0.587,1.97],[0.591,2.4],[0.594,2.06],
  [0.598,2.26],[0.601,1.95],[0.605,2.36],[0.608,2.02],[0.612,2.29],[0.615,1.98],[0.619,2.45],[0.622,2.05],[0.626,2.27],[0.629,1.96],
  [0.633,2.34],[0.636,2.03],[0.640,2.39],[0.643,1.99],[0.647,2.28],[0.650,2.06],[0.654,2.31],[0.657,1.95],[0.661,2.43],[0.664,2.04],
  [0.668,2.26],[0.671,1.97],[0.675,2.37],[0.678,2.02],[0.682,2.3],[0.685,1.98],[0.689,2.41],[0.692,2.05],[0.696,2.27],[0.699,1.96],
  [0.703,2.35],[0.706,2.03],[0.710,2.29],[0.713,2.0],[0.717,2.44],[0.720,2.07],[0.724,2.33],[0.727,2.1],[0.730,2.46],
  [0.858,1.97],[0.861,2.36],[0.865,2.03],[0.868,2.28],[0.872,1.95],[0.875,2.41],[0.879,2.05],[0.882,2.27],[0.886,1.98],[0.889,2.34],
  [0.893,2.02],[0.896,2.3],[0.900,1.94],[0.903,2.43],[0.907,2.06],[0.910,2.26],[0.914,1.96],[0.917,2.37],[0.921,2.04],[0.924,2.29],
  [0.928,1.93],[0.931,2.4],[0.935,2.01],[0.938,2.27],[0.942,1.97],[0.945,2.35],[0.949,2.05],[0.952,2.3],[0.956,1.95],[0.959,2.42],
  [0.963,2.03],[0.966,2.26],[0.970,1.98],[0.973,2.33],[0.977,2.06],[0.980,2.28],[0.984,1.96],[0.987,2.39],[0.991,2.02],[0.994,2.3],
  [0.998,1.97]
];

const phaseEclipse = [
  [0.735,2.24],[0.736,2.4],[0.737,2.18],[0.738,2.33],[0.739,2.5],[0.740,2.27],[0.741,2.21],[0.742,2.44],[0.743,2.35],[0.744,2.29],
  [0.745,2.56],[0.746,2.38],[0.747,2.31],[0.748,2.47],[0.749,2.6],[0.750,2.42],[0.751,2.35],
  [0.752,2.55],[0.753,2.66],[0.754,2.48],[0.755,2.6],[0.756,2.72],[0.757,2.52],[0.758,2.64],[0.759,2.45],[0.760,2.69],
  [0.761,2.58],[0.762,2.78],[0.763,2.62],[0.764,2.7],[0.765,2.55],[0.766,2.67],[0.767,2.82],[0.768,2.74],[0.769,2.6],[0.770,2.69],
  [0.771,2.77],[0.772,2.65],[0.773,2.86],[0.774,2.72],[0.775,2.8],[0.776,2.93],[0.777,2.7],[0.778,2.84],[0.779,2.76],[0.780,2.98],
  [0.781,2.88],[0.782,2.79],[0.783,3.02],[0.784,2.9],[0.785,2.83],
  [0.786,3.08],[0.787,2.95],[0.788,3.15],[0.789,2.87],[0.790,3.22],[0.790,3.04],[0.791,3.35],[0.792,2.98],[0.792,3.12],[0.793,3.45],
  [0.794,3.27],[0.794,2.92],[0.795,3.18],[0.796,3.59],[0.796,3.06],[0.797,3.38],[0.798,3.01],[0.798,3.24],[0.799,3.13],[0.800,2.94],
  [0.800,3.3],
  [0.801,3.05],[0.802,2.88],[0.803,3.1],[0.804,2.82],[0.805,2.97],[0.806,2.78],[0.807,2.91],[0.808,2.72],[0.809,2.85],[0.810,2.68],
  [0.811,2.79],[0.812,2.62],[0.813,2.74],[0.814,2.58],[0.815,2.69],
  [0.816,2.55],[0.817,2.64],[0.818,2.48],[0.819,2.59],[0.820,2.44],[0.821,2.53],[0.822,2.4],[0.823,2.5],[0.824,2.36],[0.825,2.46],
  [0.826,2.32],[0.827,2.41],[0.828,2.28],[0.829,2.38],[0.830,2.25],[0.831,2.34],[0.832,2.22],[0.833,2.3],[0.834,2.18],[0.835,2.27],
  [0.836,2.2],[0.837,2.13],[0.838,2.26],[0.839,2.09],[0.840,2.18],[0.842,2.05],[0.843,2.22],[0.844,2.12],[0.846,2.16],[0.847,2.02],
  [0.849,2.2],[0.850,2.1],[0.852,2.25],[0.853,2.07],[0.855,2.14],
  [0.738,2.2],[0.741,2.36],[0.744,2.43],[0.747,2.25],[0.750,2.52],[0.753,2.41],[0.756,2.58],[0.759,2.76],[0.762,2.5],[0.765,2.84],
  [0.768,2.66],[0.771,2.9],[0.774,2.63],[0.777,2.95],[0.780,2.74],[0.783,2.85],[0.786,2.9],[0.788,3.0],[0.791,3.09],[0.793,2.89],
  [0.795,3.2],[0.797,2.97],[0.799,3.34],[0.801,2.93],[0.804,3.02],[0.806,2.87],[0.809,2.77],[0.812,2.7],[0.815,2.61],[0.818,2.54],
  [0.821,2.47],[0.824,2.42],[0.827,2.35],[0.830,2.3],[0.833,2.24],[0.836,2.3],[0.840,2.24],[0.845,2.28],
  [0.733,2.34],[0.737,2.45],[0.740,2.32],[0.743,2.52],[0.746,2.44],[0.749,2.36],[0.752,2.62],[0.755,2.5],[0.758,2.7],[0.761,2.65],
  [0.764,2.77],[0.767,2.58],[0.770,2.85],[0.773,2.78],[0.776,2.68],[0.779,2.92],[0.782,2.95],[0.785,3.05],[0.787,3.2],[0.789,3.1],
  [0.791,2.95],[0.793,3.3],[0.795,3.0],[0.797,3.15],[0.799,3.42],[0.802,3.18],[0.803,2.96],[0.805,2.85],[0.807,3.0],[0.809,2.92],
  [0.811,2.71],[0.813,2.82],[0.816,2.66],[0.819,2.62],[0.822,2.5],[0.825,2.55],[0.828,2.44],[0.831,2.4],[0.834,2.36],[0.838,2.33],
  [0.842,2.3],[0.848,2.25],[0.851,2.18],[0.854,2.21]
];

const phaseOutliers = [
  [0.012,1.59],[0.030,1.54],[0.069,1.59],[0.087,1.59],[0.079,1.15],[0.069,1.77],[0.090,1.85],[0.100,1.9],[0.026,1.95],
  [0.271,1.69],[0.318,1.72],[0.399,1.06],[0.436,1.49],[0.436,1.64],[0.425,1.82],[0.420,1.88],[0.537,1.4],[0.542,1.86],
  [0.686,1.16],[0.681,1.95],[0.828,0.22],[0.923,0.98],[0.970,1.93],[0.007,2.62],[0.059,3.09],[0.094,2.64],[0.097,2.68],
  [0.270,2.66],[0.270,2.57],[0.399,2.6],[0.446,2.55],[0.487,2.76],[0.583,2.71],[0.617,2.6],[0.620,2.7],[0.703,2.94],
  [0.676,3.22],[0.918,2.6],[0.990,2.55],[0.962,2.5],[0.998,2.4],[0.835,2.85],
  [0.045,2.5],[0.130,2.52],[0.160,2.49],[0.215,2.55],[0.305,2.48],[0.355,2.53],[0.470,2.47],[0.515,2.5],[0.545,2.56],
  [0.640,2.5],[0.700,2.52],[0.930,2.48],[0.960,2.45]
];
const phaseFlagged = [[0.28,3.08],[0.28,3.11],[0.89,2.72],[0.89,2.75],[0.952,3.4],[0.952,3.43]];

const serif = '"Liberation Serif", "DejaVu Serif", serif';
const dotColor = '#0C5DA5';
const flagColor = '#3a4cf0';
const lineColor = '#ff2a2a';

function pts(list) {
  return list.map(([x, y]) => ({ x, y }));
}

function dots(list, color, r) {
  return { type: 'scatter', data: pts(list), backgroundColor: color, borderWidth: 0, pointRadius: r, order: 2 };
}

function maxLine(range) {
  return {
    type: 'line',
    data: [{ x: range[0], y: magMax }, { x: range[1], y: magMax }],
    borderColor: lineColor, borderWidth: 1.6, pointRadius: 0, order: 0
  };
}

// inward ticks on all four sides plus the box, matplotlib style
function tickBox(xMinor, yMinor) {
  return {
    id: 'tickBox',
    afterDatasetsDraw(chart) {
      const { ctx, chartArea: a, scales: { x, y } } = chart;
      ctx.save();
      ctx.strokeStyle = '#3a3a3a';
      ctx.lineWidth = 1;
      ctx.beginPath();
      const xs = [];
      for (let v = Math.ceil(x.min / xMinor) * xMinor; v <= x.max + 1e-9; v += xMinor) xs.push(v);
      const ys = [];
      for (let v = Math.ceil(y.min / yMinor) * yMinor; v <= y.max + 1e-9; v += yMinor) ys.push(v);
      const isMajor = (v, list) => list.some(m => Math.abs(m - v) < 1e-6);
      xs.forEach(v => {
        const px = Math.round(x.getPixelForValue(v)) + 0.5;
        const len = isMajor(v, x.options.majorList) ? 5.5 : 3;
        ctx.moveTo(px, a.bottom); ctx.lineTo(px, a.bottom - len);
        ctx.moveTo(px, a.top); ctx.lineTo(px, a.top + len);
      });
      ys.forEach(v => {
        const py = Math.round(y.getPixelForValue(v)) + 0.5;
        const len = isMajor(v, y.options.majorList) ? 5.5 : 3;
        ctx.moveTo(a.left, py); ctx.lineTo(a.left + len, py);
        ctx.moveTo(a.right, py); ctx.lineTo(a.right - len, py);
      });
      ctx.stroke();
      ctx.strokeRect(Math.round(a.left) + 0.5, Math.round(a.top) + 0.5, Math.round(a.width), Math.round(a.height));
      ctx.restore();
    }
  };
}

const starNotes = {
  id: 'starNotes',
  afterDraw(chart) {
    const { ctx, chartArea: a } = chart;
    ctx.save();
    ctx.fillStyle = lineColor;
    ctx.font = '20px ' + serif;
    ctx.textBaseline = 'alphabetic';
    const col1 = a.left + 0.074 * a.width;
    const col2 = a.left + 0.525 * a.width;
    const row1 = a.top + 0.137 * a.height;
    const row2 = a.top + 0.252 * a.height;
    ctx.fillText('GCVS : ' + gcvsName, col1, row1);
    ctx.fillText('Period : ' + period.toFixed(2), col2, row1);
    ctx.fillText('VarType : ' + varType, col1, row2);
    ctx.fillText('magMax : ' + magMax.toFixed(2), col2, row2);
    ctx.restore();
  }
};

function makeScales(xRange, xTicks, xTitle, xFmt, yWidth, yTitlePad) {
  return {
    x: {
      type: 'linear', min: xRange[0], max: xRange[1], majorList: xTicks,
      afterBuildTicks: s => { s.ticks = xTicks.map(v => ({ value: v })); },
      afterFit: s => { s.height = 52; s.paddingLeft = 0; s.paddingRight = 0; },
      grid: { display: false, drawTicks: false }, border: { display: false },
      ticks: { font: { family: serif, size: 20 }, color: '#111', padding: 5, maxRotation: 0, autoSkip: false, callback: xFmt },
      title: { display: true, text: xTitle, font: { family: serif, size: 22 }, color: '#111', padding: { top: 0, bottom: 8 } }
    },
    y: {
      type: 'linear', reverse: true, min: 0.19, max: 3.66, majorList: magTicks,
      afterBuildTicks: s => { s.ticks = magTicks.map(v => ({ value: v })); },
      afterFit: s => { s.width = yWidth; s.paddingTop = 0; s.paddingBottom = 0; },
      grid: { display: false, drawTicks: false }, border: { display: false },
      ticks: { font: { family: serif, size: 20 }, color: '#111', padding: 6, callback: v => String(v) },
      title: { display: true, text: 'Magnitude', font: { family: serif, size: 22 }, color: '#111', padding: { top: yTitlePad, bottom: 0 } }
    }
  };
}

const mjdRange = [58788.4, 59209];
const phaseRange = [-0.05, 1.05];

new Chart(document.getElementById('lc'), {
  type: 'scatter',
  data: {
    datasets: [
      maxLine(mjdRange),
      dots(season1, dotColor, 1.3),
      dots(season1Fill, dotColor, 1.3),
      dots(season2, dotColor, 1.3),
      dots(season2Fill, dotColor, 1.3),
      dots(lcOutliers, dotColor, 1.3),
      dots(lcFlagged, flagColor, 1.2)
    ]
  },
  options: {
    responsive: false, animation: false, devicePixelRatio: 1,
    layout: { padding: { left: 0, right: 324, top: 3, bottom: 0 } },
    plugins: { legend: { display: false }, tooltip: { enabled: false } },
    scales: makeScales(mjdRange, mjdTicks, 'MJD', v => String(v), 42, 0)
  },
  plugins: [tickBox(20, 0.2), starNotes]
});

new Chart(document.getElementById('ph'), {
  type: 'scatter',
  data: {
    datasets: [
      maxLine(phaseRange),
      dots(phaseBand, dotColor, 1.3),
      dots(phaseBand2, dotColor, 1.3),
      dots(phaseBand3, dotColor, 1.3),
      dots(phaseEclipse, dotColor, 1.3),
      dots(phaseOutliers, dotColor, 1.3),
      dots(phaseFlagged, flagColor, 1.2)
    ]
  },
  options: {
    responsive: false, animation: false, devicePixelRatio: 1,
    layout: { padding: { left: 440, right: 5, top: 3, bottom: 0 } },
    plugins: { legend: { display: false }, tooltip: { enabled: false } },
    scales: makeScales(phaseRange, phaseTicks, 'Phase', v => v.toFixed(1), 48, 4)
  },
  plugins: [tickBox(0.1, 0.2)]
});
</script>
</body>
</html>
